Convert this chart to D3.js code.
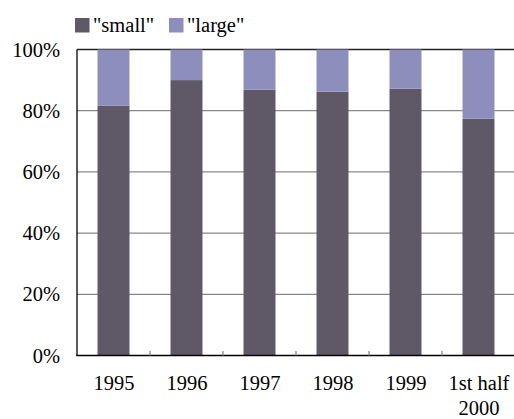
<!DOCTYPE html>
<html><head><meta charset="utf-8">
<script src="https://cdn.jsdelivr.net/npm/d3@7"></script>
<style>body{margin:0;background:#fff}svg{display:block}
svg text{font-family:"Liberation Serif","Times New Roman",Times,"DejaVu Serif",serif;font-size:20.5px;fill:#000}</style>
</head><body><svg id="c" width="514" height="419"></svg>
<script>
const categories = ["1995","1996","1997","1998","1999","1st half\n2000"];
const smallShare = [81.6, 90.0, 86.9, 86.2, 87.2, 77.4];
const largeShare = [18.4, 10.0, 13.1, 13.8, 12.8, 22.6];
const yTicks = [0, 20, 40, 60, 80, 100];
const seriesNames = ["\"small\"", "\"large\""];
const colors = ["#5e5867", "#8e8ebc"];

(function() {
const svg = d3.select("#c");
const pLeft = 77, pRight = 515, pTop = 49.5, pBottom = 355.5;
const x = d3.scaleBand().domain(categories).range([pLeft, pRight]).paddingInner(0.562).paddingOuter(0.281);
const xb = d3.scaleBand().domain(categories).range([pLeft, pRight]);
const y = d3.scaleLinear().domain([0, 100]).range([pBottom, pTop]);

// gridlines
svg.append("g").selectAll("line").data(yTicks.filter(d => d > 0)).join("line")
  .attr("x1", pLeft).attr("x2", 514).attr("y1", d => y(d)).attr("y2", d => y(d))
  .attr("stroke", d => d === 100 ? "#222" : "#888").attr("stroke-width", 1.3);

// stacked bars
const stackData = categories.map((c, i) => ({cat: c, small: smallShare[i], large: largeShare[i]}));
const stack = d3.stack().keys(["small", "large"])(stackData);
svg.append("g").selectAll("g").data(stack).join("g")
  .attr("fill", (d, i) => colors[i])
  .selectAll("rect").data(d => d).join("rect")
  .attr("x", d => x(d.data.cat)).attr("width", x.bandwidth())
  .attr("y", d => y(d[1])).attr("height", d => y(d[0]) - y(d[1]));

// y axis line
svg.append("line").attr("x1", pLeft).attr("x2", pLeft).attr("y1", pTop).attr("y2", pBottom + 0.5)
  .attr("stroke", "#000").attr("stroke-width", 1.3);
// x axis line
svg.append("line").attr("x1", pLeft - 0.5).attr("x2", 514).attr("y1", pBottom).attr("y2", pBottom)
  .attr("stroke", "#000").attr("stroke-width", 1.5);
// x ticks (inward, at category boundaries)
svg.append("g").selectAll("line").data(categories.slice(1)).join("line")
  .attr("x1", d => xb(d)).attr("x2", d => xb(d)).attr("y1", pBottom).attr("y2", pBottom - 4.5)
  .attr("stroke", "#888").attr("stroke-width", 1.3);

// y labels
svg.append("g").selectAll("text").data(yTicks).join("text")
  .attr("x", 60).attr("y", d => y(d) + 7).attr("text-anchor", "end")
  .text(d => d + "%");

// x labels
svg.append("g").selectAll("text").data(categories).join("text")
  .attr("x", d => xb(d) + xb.bandwidth() / 2 + 0.5)
  .attr("y", 390).attr("text-anchor", "middle")
  .each(function(d) {
    const lines = d.split("\n");
    const t = d3.select(this);
    lines.forEach((l, i) => t.append("tspan").attr("x", t.attr("x")).attr("dy", i ? 24.5 : 0).text(l));
  });

// legend
const lg = svg.append("g");
const legendX = [75, 169];
seriesNames.forEach((n, i) => {
  lg.append("rect").attr("x", legendX[i]).attr("y", 18).attr("width", 14.5).attr("height", 14.5).attr("fill", colors[i]);
  lg.append("text").attr("x", legendX[i] + 18).attr("y", 31.5).text(n);
});
})();
</script></body></html>
